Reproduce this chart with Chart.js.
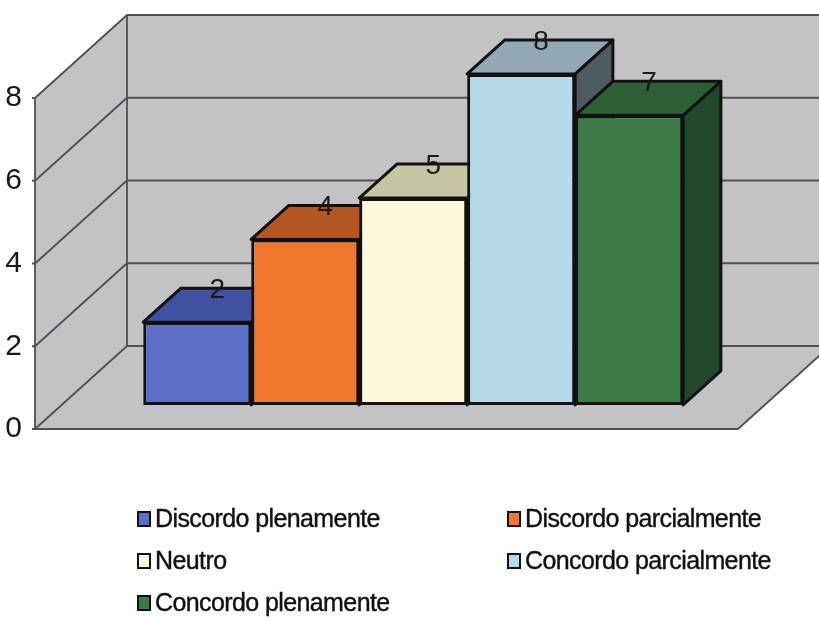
<!DOCTYPE html>
<html lang="pt">
<head>
<meta charset="UTF-8">
<title>Respostas</title>
<style>
  body { margin: 0; background: #fff; font-family: Arial, "Liberation Sans", sans-serif; }
  .wrap { position: relative; width: 819px; height: 621px; overflow: hidden; }
  #legend .item {
    position: absolute; display: flex; align-items: center;
    font-size: 25px; letter-spacing: -0.6px; color: #111; white-space: nowrap;
    -webkit-text-stroke: 0.4px #111;
  }
  #legend .box { width: 10px; height: 12px; border: 2.5px solid #111; margin-right: 4px; }
</style>
</head>
<body>
<div class="wrap">
  <canvas id="chart" width="819" height="621"></canvas>
  <div id="legend"></div>
</div>
<script src="https://cdn.jsdelivr.net/npm/chart.js"></script>
<script>
const categories = ['Discordo plenamente', 'Discordo parcialmente', 'Neutro', 'Concordo parcialmente', 'Concordo plenamente'];
const values = [2, 4, 5, 8, 7];
const yTicks = [0, 2, 4, 6, 8];

const frontColors = ['#5b6fc6', '#f0782e', '#fbf8dc', '#b6dae9', '#3b7b46'];
const topColors = ['#3f51a0', '#b4561f', '#c6c6a2', '#90a9b4', '#2c6034'];
const sideColors = ['#2f3d7a', '#8c4218', '#9a9a7c', '#4e5a62', '#20482a'];

// depth of the walls, and where the bars sit inside it
const DEPTH = { x: 92, y: -83 };
const BAR_FRONT = 0.29, BAR_BACK = 0.70;
const WALL = '#c3c3c5', LINE = '#505050', EDGE = '#111';

function poly(ctx, pts) {
  ctx.beginPath();
  ctx.moveTo(pts[0][0], pts[0][1]);
  pts.slice(1).forEach(p => ctx.lineTo(p[0], p[1]));
  ctx.closePath();
}

const box3d = {
  id: 'box3d',
  beforeDatasetsDraw(chart) {
    const { ctx, chartArea: a, scales: { y } } = chart;
    const y0 = y.getPixelForValue(y.min), yTop = y.getPixelForValue(y.max);
    const dx = DEPTH.x, dy = DEPTH.y;

    // walls and floor
    ctx.save();
    ctx.fillStyle = WALL;
    poly(ctx, [[a.left, yTop], [a.left + dx, yTop + dy], [a.right + dx, yTop + dy], [a.right + dx, y0 + dy],
               [a.right, y0], [a.left, y0]]);
    ctx.fill();

    ctx.strokeStyle = LINE;
    ctx.lineWidth = 1.8;
    yTicks.forEach(v => {
      const py = y.getPixelForValue(v);
      ctx.beginPath();
      ctx.moveTo(a.left - 3, py);
      ctx.lineTo(a.left, py);
      ctx.lineTo(a.left + dx, py + dy);
      ctx.lineTo(a.right + dx, py + dy);
      ctx.stroke();
    });
    ctx.beginPath();
    ctx.moveTo(a.left, yTop); ctx.lineTo(a.left, y0); ctx.lineTo(a.right, y0);
    ctx.lineTo(a.right + dx, y0 + dy);
    ctx.moveTo(a.left + dx, yTop + dy); ctx.lineTo(a.left + dx, y0 + dy);
    ctx.stroke();
    ctx.restore();

    // tops and sides of the bars, left to right
    const ox = BAR_FRONT * dx, oy = BAR_FRONT * dy;
    const bx = (BAR_BACK - BAR_FRONT) * dx, by = (BAR_BACK - BAR_FRONT) * dy;
    ctx.save();
    ctx.strokeStyle = EDGE;
    ctx.lineWidth = 3;
    ctx.lineJoin = 'round';
    chart.data.datasets.forEach((ds, i) => {
      const bar = chart.getDatasetMeta(i).data[0];
      const l = bar.x - bar.width / 2 + ox, r = bar.x + bar.width / 2 + ox;
      const t = bar.y + oy, b = bar.base + oy;
      ctx.fillStyle = sideColors[i];
      poly(ctx, [[r, t], [r + bx, t + by], [r + bx, b + by], [r, b]]);
      ctx.fill(); ctx.stroke();
      ctx.fillStyle = topColors[i];
      poly(ctx, [[l, t], [r, t], [r + bx, t + by], [l + bx, t + by]]);
      ctx.fill(); ctx.stroke();
    });
    ctx.restore();

    // front faces are drawn by chart.js, shifted into the depth
    ctx.save();
    ctx.translate(ox, oy);
  },
  afterDatasetsDraw(chart) {
    const { ctx } = chart;
    ctx.restore();
    const ox = BAR_FRONT * DEPTH.x, oy = BAR_FRONT * DEPTH.y;
    const by = (BAR_BACK - BAR_FRONT) * DEPTH.y;
    ctx.save();
    ctx.font = '28px Arial, "Liberation Sans", sans-serif';
    ctx.fillStyle = '#1a1a1a';
    ctx.textAlign = 'center';
    ctx.textBaseline = 'middle';
    chart.data.datasets.forEach((ds, i) => {
      const bar = chart.getDatasetMeta(i).data[0];
      ctx.fillText(String(ds.data[0]), bar.x + ox + 20, bar.y + oy + by + 2);
    });
    ctx.restore();
  }
};

new Chart(document.getElementById('chart'), {
  type: 'bar',
  data: {
    labels: [''],
    datasets: categories.map((name, i) => ({
      label: name,
      data: [values[i]],
      backgroundColor: frontColors[i],
      borderColor: EDGE,
      borderWidth: 3,
      borderSkipped: false,
      clip: false
    }))
  },
  options: {
    responsive: false,
    animation: false,
    layout: { padding: { left: 0, top: 98, right: 81, bottom: 192 } },
    datasets: { bar: { categoryPercentage: 0.768, barPercentage: 1 } },
    plugins: { legend: { display: false }, tooltip: { enabled: false } },
    scales: {
      x: { display: false },
      y: {
        min: 0, max: 8,
        ticks: { stepSize: 2, padding: 5, color: '#1a1a1a', font: { size: 30, family: 'Arial, "Liberation Sans", sans-serif' } },
        grid: { display: false },
        border: { display: false },
        afterFit(scale) { scale.width = 35; }
      }
    }
  },
  plugins: [box3d]
});

// legend in two columns, like the original
const legend = document.getElementById('legend');
const colX = [137, 507], rowY = [504, 546, 588];
categories.forEach((name, i) => {
  const item = document.createElement('div');
  item.className = 'item';
  item.style.left = colX[i % 2] + 'px';
  item.style.top = rowY[Math.floor(i / 2)] + 'px';
  const box = document.createElement('span');
  box.className = 'box';
  box.style.background = frontColors[i];
  item.appendChild(box);
  item.appendChild(document.createTextNode(name));
  legend.appendChild(item);
});
</script>
</body>
</html>
